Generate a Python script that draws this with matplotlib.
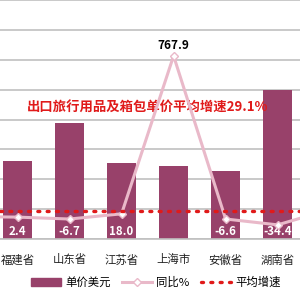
import numpy as np
import matplotlib
matplotlib.use('Agg')
import matplotlib.pyplot as plt
from matplotlib.lines import Line2D
from matplotlib.patches import Patch

plt.rcParams['font.family'] = ['Noto Sans CJK SC', 'DejaVu Sans']

# data (the chart is cropped: one category hidden on each side)
categories = ['', '福建省', '山东省', '江苏省', '上海市', '安徽省', '湖南省', '']
unit_price = [0, 26.0, 39.0, 25.5, 24.5, 22.8, 50.0, 0]
yoy = [5.0, 2.4, -6.7, 18.0, 767.9, -6.6, -34.4, 38.0]
avg_growth = 29.1
title_text = '出口旅行用品及箱包单价平均增速29.1%'

bar_color = '#98416a'
line_color = '#e9b9c9'
avg_color = '#e01a1a'

fig = plt.figure(figsize=(3, 3), dpi=100)
ax = fig.add_axes([0, 0.203, 1, 0.797])
x = np.arange(len(categories)) - 1

ax.bar(x, unit_price, width=0.56, color=bar_color, zorder=2)
ax.set_ylim(0, 80)
ax.set_yticks(np.arange(0, 81, 10))
ax.yaxis.grid(True, color='#c0c0c0', linewidth=1.2, zorder=0)
ax.set_xlim(-0.337, 5.43)
ax.set_xticks(x[1:-1])
ax.set_xticklabels(categories[1:-1], fontsize=8.2, color='#222222')
ax.tick_params(axis='x', length=0, pad=11)
ax.tick_params(axis='y', length=0, labelleft=False)
for s in ['top', 'left', 'right']:
    ax.spines[s].set_visible(False)
ax.spines['bottom'].set_color('#c0c0c0')
ax.spines['bottom'].set_linewidth(1.2)

ax2 = ax.twinx()
ax2.set_ylim(-102, 1033)
ax2.axis('off')
ax2.plot(x, yoy, color=line_color, linewidth=2.2, marker='D', markersize=4,
         markerfacecolor='white', markeredgecolor=line_color, zorder=3)
ax2.axhline(avg_growth, color=avg_color, linestyle=(0, (0.6, 2.2)),
            linewidth=2.4, dash_capstyle='round', zorder=4)

for xi, v in zip(x[1:-1], yoy[1:-1]):
    if v > 500:
        ax2.text(xi, v + 50, f'{v:.1f}', ha='center', va='center',
                 fontsize=8.5, fontweight='bold', color='black')
    else:
        ax.text(xi, 2.7, f'{v:.1f}', ha='center', va='center',
                fontsize=8.3, fontweight='bold', color='white', zorder=5)

ax.text(2.5, 43.8, title_text, ha='center', va='center', fontsize=9.6,
        fontweight='bold', color=avg_color, zorder=5)

handles = [Patch(color=bar_color),
           Line2D([], [], color=line_color, linewidth=2.2, marker='D', markersize=4,
                  markerfacecolor='white', markeredgecolor=line_color),
           Line2D([], [], color=avg_color, linestyle=(0, (0.6, 2.2)), linewidth=2.4,
                  dash_capstyle='round')]
fig.legend(handles, ['单价美元', '同比%', '平均增速'], loc='center',
           bbox_to_anchor=(0.52, 0.058), ncol=3, frameon=False, fontsize=8.2,
           handlelength=2.6, handletextpad=0.4, columnspacing=1.0)

fig.savefig('out.png', dpi=100)
